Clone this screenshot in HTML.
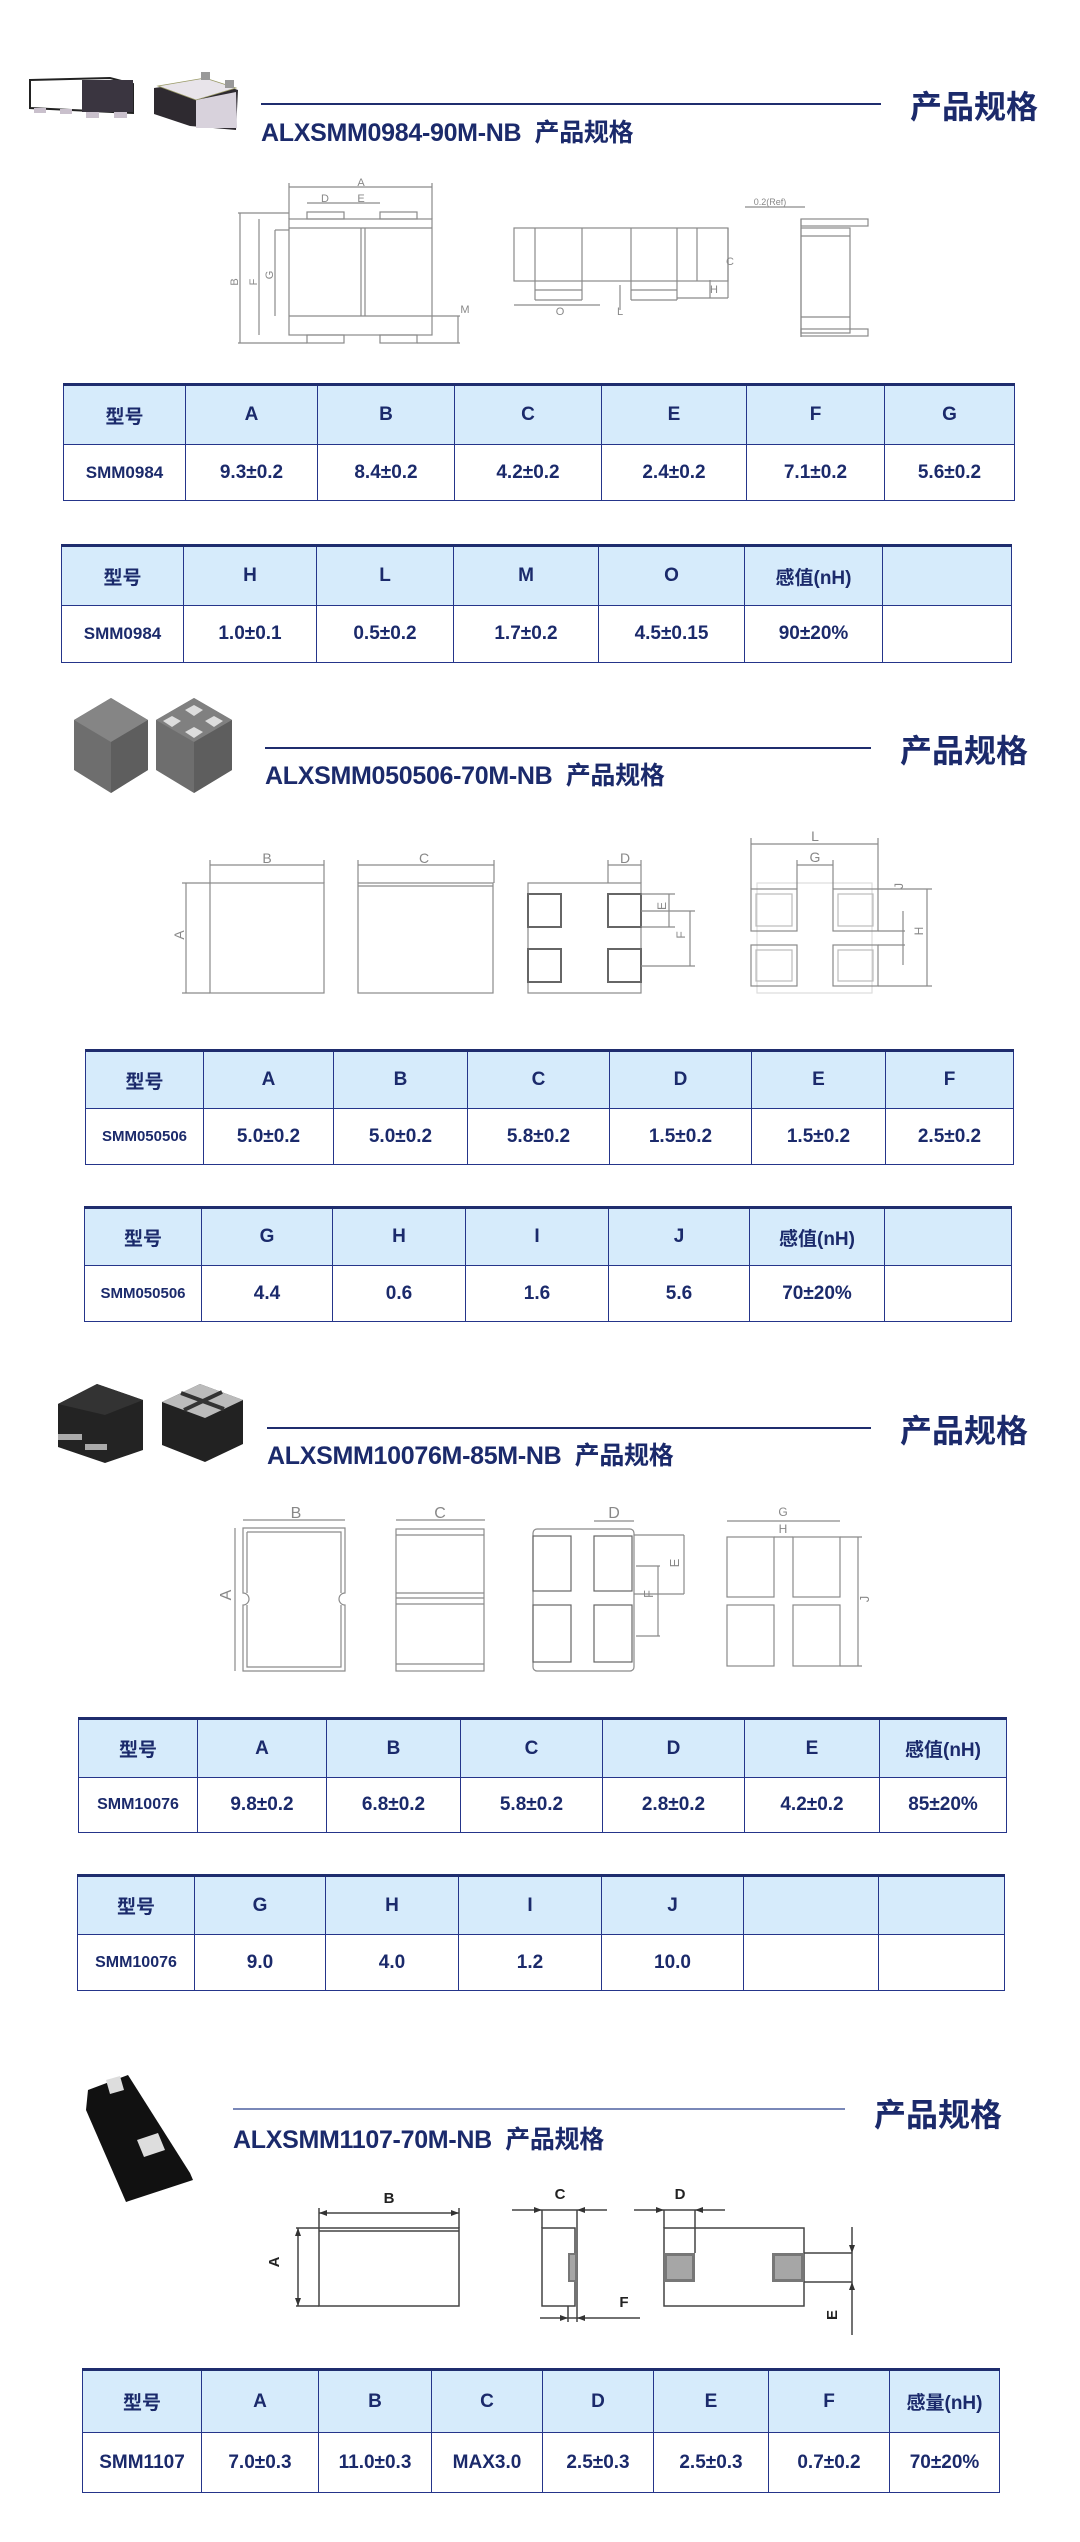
<!DOCTYPE html>
<html><head><meta charset="utf-8">
<style>
*{margin:0;padding:0;box-sizing:border-box}
body{width:1080px;height:2542px;background:#fff;position:relative;overflow:hidden;font-family:"Liberation Sans","Noto Sans CJK SC",sans-serif;color:#1b2a6b}
.t{position:absolute;font-weight:bold;white-space:nowrap;color:#1b2a6b}
.title{font-size:25px;letter-spacing:-0.3px}
.big{font-size:32px}
.line{position:absolute;height:2px;background:#1f2d6e}
table{position:absolute;border-collapse:collapse;table-layout:fixed}
td{border:1.5px solid #25358a;text-align:center;font-weight:bold;font-size:19px;color:#1b2a6b;padding:0;white-space:nowrap;overflow:hidden}
tr.h td{background:#d6ebfb;font-size:19px}
table{border-top:3px solid #1f2d6e}
td.m{font-size:17px}
</style></head><body>

<!-- Section 1 -->
<div class="line" style="left:261px;top:103px;width:620px"></div>
<div class="t title" style="left:261px;top:113px">ALXSMM0984-90M-NB&nbsp; 产品规格</div>
<div class="t big" style="left:910px;top:82px">产品规格</div>

<table style="left:63px;top:383px;width:951px">
<colgroup><col style="width:122px"><col style="width:132px"><col style="width:137px"><col style="width:147px"><col style="width:145px"><col style="width:138px"><col style="width:130px"></colgroup>
<tr class="h" style="height:60px"><td>型号</td><td>A</td><td>B</td><td>C</td><td>E</td><td>F</td><td>G</td></tr>
<tr style="height:56px"><td class="m">SMM0984</td><td>9.3±0.2</td><td>8.4±0.2</td><td>4.2±0.2</td><td>2.4±0.2</td><td>7.1±0.2</td><td>5.6±0.2</td></tr>
</table>
<table style="left:61px;top:544px;width:950px">
<colgroup><col style="width:122px"><col style="width:133px"><col style="width:137px"><col style="width:145px"><col style="width:146px"><col style="width:138px"><col style="width:129px"></colgroup>
<tr class="h" style="height:60px"><td>型号</td><td>H</td><td>L</td><td>M</td><td>O</td><td>感值(nH)</td><td></td></tr>
<tr style="height:57px"><td class="m">SMM0984</td><td>1.0±0.1</td><td>0.5±0.2</td><td>1.7±0.2</td><td>4.5±0.15</td><td>90±20%</td><td></td></tr>
</table>

<!-- Section 2 -->
<div class="line" style="left:265px;top:747px;width:606px"></div>
<div class="t title" style="left:265px;top:756px">ALXSMM050506-70M-NB&nbsp; 产品规格</div>
<div class="t big" style="left:900px;top:726px">产品规格</div>

<table style="left:85px;top:1049px;width:928px">
<colgroup><col style="width:118px"><col style="width:130px"><col style="width:134px"><col style="width:142px"><col style="width:142px"><col style="width:134px"><col style="width:128px"></colgroup>
<tr class="h" style="height:58px"><td>型号</td><td>A</td><td>B</td><td>C</td><td>D</td><td>E</td><td>F</td></tr>
<tr style="height:56px"><td class="m" style="font-size:15px">SMM050506</td><td>5.0±0.2</td><td>5.0±0.2</td><td>5.8±0.2</td><td>1.5±0.2</td><td>1.5±0.2</td><td>2.5±0.2</td></tr>
</table>
<table style="left:84px;top:1206px;width:927px">
<colgroup><col style="width:117px"><col style="width:131px"><col style="width:133px"><col style="width:143px"><col style="width:141px"><col style="width:135px"><col style="width:127px"></colgroup>
<tr class="h" style="height:58px"><td>型号</td><td>G</td><td>H</td><td>I</td><td>J</td><td>感值(nH)</td><td></td></tr>
<tr style="height:56px"><td class="m" style="font-size:15px">SMM050506</td><td>4.4</td><td>0.6</td><td>1.6</td><td>5.6</td><td>70±20%</td><td></td></tr>
</table>

<!-- Section 3 -->
<div class="line" style="left:267px;top:1427px;width:604px"></div>
<div class="t title" style="left:267px;top:1436px">ALXSMM10076M-85M-NB&nbsp; 产品规格</div>
<div class="t big" style="left:900px;top:1406px">产品规格</div>

<table style="left:78px;top:1717px;width:928px">
<colgroup><col style="width:119px"><col style="width:129px"><col style="width:134px"><col style="width:142px"><col style="width:142px"><col style="width:135px"><col style="width:127px"></colgroup>
<tr class="h" style="height:59px"><td>型号</td><td>A</td><td>B</td><td>C</td><td>D</td><td>E</td><td>感值(nH)</td></tr>
<tr style="height:55px"><td class="m" style="font-size:16px">SMM10076</td><td>9.8±0.2</td><td>6.8±0.2</td><td>5.8±0.2</td><td>2.8±0.2</td><td>4.2±0.2</td><td>85±20%</td></tr>
</table>
<table style="left:77px;top:1874px;width:927px">
<colgroup><col style="width:117px"><col style="width:131px"><col style="width:133px"><col style="width:143px"><col style="width:142px"><col style="width:135px"><col style="width:126px"></colgroup>
<tr class="h" style="height:59px"><td>型号</td><td>G</td><td>H</td><td>I</td><td>J</td><td></td><td></td></tr>
<tr style="height:56px"><td class="m" style="font-size:16px">SMM10076</td><td>9.0</td><td>4.0</td><td>1.2</td><td>10.0</td><td></td><td></td></tr>
</table>

<!-- Section 4 -->
<div class="line" style="left:233px;top:2108px;width:612px;background:#7a88b8"></div>
<div class="t title" style="left:233px;top:2120px">ALXSMM1107-70M-NB&nbsp; 产品规格</div>
<div class="t big" style="left:874px;top:2090px">产品规格</div>

<table style="left:82px;top:2368px;width:917px">
<colgroup><col style="width:119px"><col style="width:117px"><col style="width:113px"><col style="width:111px"><col style="width:111px"><col style="width:115px"><col style="width:121px"><col style="width:110px"></colgroup>
<tr class="h" style="height:63px"><td>型号</td><td>A</td><td>B</td><td>C</td><td>D</td><td>E</td><td>F</td><td>感量(nH)</td></tr>
<tr style="height:60px"><td>SMM1107</td><td>7.0±0.3</td><td>11.0±0.3</td><td>MAX3.0</td><td>2.5±0.3</td><td>2.5±0.3</td><td>0.7±0.2</td><td>70±20%</td></tr>
</table>

<svg width="1080" height="2542" style="position:absolute;left:0;top:0" xmlns="http://www.w3.org/2000/svg">
<g font-family="Liberation Sans, sans-serif" font-size="10" fill="#888">
<polygon points="30,80 110,78 133,84 133,113 30,108" fill="#fff" stroke="#222" stroke-width="2"/>
<rect x="82" y="80" width="51" height="32" fill="#3a3540"/>
<rect x="34" y="108" width="12" height="5" fill="#c9c0cc"/><rect x="60" y="109" width="12" height="5" fill="#c9c0cc"/>
<rect x="86" y="112" width="13" height="6" fill="#c9c0cc"/><rect x="114" y="112" width="13" height="6" fill="#c9c0cc"/>
<polygon points="154,88 210,80 238,90 236,130 190,126 154,114" fill="#2e2a30"/>
<polygon points="196,100 236,92 237,128 196,128" fill="#d8d2dc"/>
<polygon points="158,86 205,78 236,88 196,100" fill="#e8e4ea" stroke="#996" stroke-width="0.8"/>
<rect x="201" y="72" width="9" height="8" fill="#999"/><rect x="225" y="80" width="9" height="8" fill="#999"/>
<polygon points="111,698 148,720 148,770 111,793 74,770 74,720" fill="#6e6e6e"/>
<polygon points="111,698 148,720 111,742 74,720" fill="#858585"/>
<polygon points="111,742 148,720 148,770 111,793" fill="#5e5e5e"/>
<polygon points="194,698 232,720 232,770 194,793 156,770 156,720" fill="#6e6e6e"/>
<polygon points="194,698 232,720 194,742 156,720" fill="#808080"/>
<polygon points="194,742 232,720 232,770 194,793" fill="#5e5e5e"/>
<polygon points="194,705 203,710 194,716 185,710" fill="#ddd"/><polygon points="214,716 223,721 214,727 205,721" fill="#ddd"/>
<polygon points="172,716 181,721 172,727 163,721" fill="#ddd"/><polygon points="194,727 203,732 194,738 185,732" fill="#ddd"/>
<polygon points="58,1404 97,1384 143,1400 143,1450 105,1463 58,1447" fill="#232323"/>
<polygon points="58,1404 97,1384 143,1400 105,1415" fill="#333"/>
<rect x="58" y="1434" width="24" height="6" fill="#aaa"/><rect x="85" y="1444" width="22" height="6" fill="#aaa"/>
<polygon points="162,1402 200,1384 243,1400 243,1444 205,1462 162,1445" fill="#222"/>
<polygon points="162,1402 200,1384 243,1400 205,1418" fill="#bbb"/>
<line x1="181" y1="1393" x2="224" y2="1409" stroke="#333" stroke-width="4"/><line x1="222" y1="1392" x2="184" y2="1410" stroke="#333" stroke-width="4"/>
<polygon points="88,2090 128,2075 190,2173 193,2180 126,2202 86,2110" fill="#111"/>
<polygon points="106,2080 120,2076 124,2090 110,2094" fill="#ddd"/>
<polygon points="137,2140 158,2133 165,2150 144,2157" fill="#ddd"/>
</g>

<g fill="none" stroke="#8a8a8a" stroke-width="1.2">
<rect x="289" y="219" width="143" height="116"/>
<line x1="289" y1="228" x2="432" y2="228"/><line x1="289" y1="316" x2="432" y2="316"/>
<line x1="361" y1="228" x2="361" y2="316"/><line x1="365" y1="228" x2="365" y2="316"/>
<rect x="307" y="212" width="37" height="7"/><rect x="380" y="212" width="37" height="7"/>
<rect x="307" y="335" width="37" height="8"/><rect x="380" y="335" width="37" height="8"/>
<line x1="289" y1="187" x2="432" y2="187"/><line x1="289" y1="183" x2="289" y2="219"/><line x1="432" y1="183" x2="432" y2="219"/>
<line x1="307" y1="203" x2="380" y2="203"/>
<line x1="240" y1="213" x2="240" y2="343"/><line x1="238" y1="213" x2="289" y2="213"/><line x1="238" y1="343" x2="307" y2="343"/>
<line x1="259" y1="219" x2="259" y2="335"/><line x1="275" y1="230" x2="275" y2="316"/><line x1="275" y1="230" x2="289" y2="230"/>
<line x1="432" y1="316" x2="460" y2="316"/><line x1="458" y1="316" x2="458" y2="343"/><line x1="417" y1="343" x2="460" y2="343"/>
<rect x="514" y="228" width="214" height="53"/>
<line x1="535" y1="228" x2="535" y2="300"/><line x1="582" y1="228" x2="582" y2="300"/>
<line x1="631" y1="228" x2="631" y2="300"/><line x1="677" y1="228" x2="677" y2="300"/><line x1="697" y1="228" x2="697" y2="281"/>
<line x1="535" y1="290" x2="582" y2="290"/><line x1="535" y1="300" x2="582" y2="300"/>
<line x1="631" y1="290" x2="677" y2="290"/><line x1="631" y1="300" x2="677" y2="300"/>
<line x1="677" y1="298" x2="728" y2="298"/><line x1="728" y1="228" x2="728" y2="298"/>
<line x1="514" y1="305" x2="600" y2="305"/><line x1="620" y1="285" x2="620" y2="310"/>
<line x1="710" y1="280" x2="710" y2="298"/>
<rect x="801" y="228" width="49" height="105"/>
<line x1="801" y1="219" x2="801" y2="337"/><rect x="801" y="219" width="67" height="7"/><rect x="801" y="329" width="67" height="7"/>
<line x1="801" y1="236" x2="850" y2="236"/><line x1="801" y1="317" x2="850" y2="317"/>
<line x1="745" y1="207" x2="805" y2="207"/>

<rect x="210" y="883" width="114" height="110"/>
<line x1="210" y1="865" x2="324" y2="865"/><line x1="210" y1="860" x2="210" y2="883"/><line x1="324" y1="860" x2="324" y2="883"/>
<line x1="186" y1="883" x2="186" y2="993"/><line x1="182" y1="883" x2="210" y2="883"/><line x1="182" y1="993" x2="210" y2="993"/>
<rect x="358" y="883" width="135" height="110"/><line x1="358" y1="886" x2="493" y2="886"/>
<line x1="358" y1="865" x2="494" y2="865"/><line x1="358" y1="860" x2="358" y2="883"/><line x1="494" y1="860" x2="494" y2="883"/>
<rect x="528" y="883" width="113" height="110"/>
<rect x="528" y="894" width="33" height="33" stroke="#666" stroke-width="2"/><rect x="608" y="894" width="33" height="33" stroke="#666" stroke-width="2"/>
<rect x="528" y="949" width="33" height="33" stroke="#666" stroke-width="2"/><rect x="608" y="949" width="33" height="33" stroke="#666" stroke-width="2"/>
<line x1="608" y1="865" x2="641" y2="865"/><line x1="608" y1="860" x2="608" y2="883"/><line x1="641" y1="860" x2="641" y2="883"/>
<line x1="641" y1="894" x2="675" y2="894"/><line x1="641" y1="911" x2="695" y2="911"/><line x1="641" y1="966" x2="695" y2="966"/>
<line x1="669" y1="894" x2="669" y2="927"/><line x1="690" y1="911" x2="690" y2="966"/><line x1="641" y1="927" x2="675" y2="927"/>
<rect x="757" y="883" width="115" height="110" stroke="#ddd"/>
<rect x="751" y="889" width="46" height="42"/><rect x="756" y="894" width="36" height="32" stroke="#bbb"/>
<rect x="833" y="889" width="45" height="42"/><rect x="838" y="894" width="35" height="32" stroke="#bbb"/>
<rect x="751" y="945" width="46" height="41"/><rect x="756" y="950" width="36" height="31" stroke="#bbb"/>
<rect x="833" y="945" width="45" height="41"/><rect x="838" y="950" width="35" height="31" stroke="#bbb"/>
<line x1="751" y1="844" x2="878" y2="844"/><line x1="751" y1="838" x2="751" y2="889"/><line x1="878" y1="838" x2="878" y2="889"/>
<line x1="797" y1="865" x2="833" y2="865"/><line x1="797" y1="860" x2="797" y2="889"/><line x1="833" y1="860" x2="833" y2="889"/>
<line x1="927" y1="889" x2="927" y2="986"/><line x1="878" y1="889" x2="932" y2="889"/><line x1="878" y1="986" x2="932" y2="986"/>
<line x1="903" y1="911" x2="903" y2="965"/><line x1="878" y1="931" x2="905" y2="931"/><line x1="878" y1="945" x2="905" y2="945"/>

<path d="M243,1528 H345 V1593 a5,5 0 0 0 0,12 V1671 H243 V1605 a5,5 0 0 0 0,-12 Z"/>
<path d="M247,1532 H341 V1593 M341,1605 V1667 H247 V1605 M247,1593 V1532"/>
<line x1="243" y1="1520" x2="345" y2="1520"/><line x1="235" y1="1528" x2="235" y2="1671"/>
<rect x="396" y="1529" width="88" height="142"/>
<line x1="396" y1="1535" x2="484" y2="1535"/><line x1="396" y1="1593" x2="484" y2="1593"/><line x1="396" y1="1604" x2="484" y2="1604"/>
<line x1="396" y1="1598" x2="484" y2="1598"/><line x1="396" y1="1664" x2="484" y2="1664"/>
<line x1="396" y1="1520" x2="485" y2="1520"/>
<rect x="533" y="1529" width="101" height="142" rx="4"/>
<rect x="533" y="1536" width="38" height="55" stroke="#666"/><rect x="594" y="1536" width="38" height="55" stroke="#666"/>
<rect x="533" y="1605" width="38" height="57" stroke="#666"/><rect x="594" y="1605" width="38" height="57" stroke="#666"/>
<line x1="594" y1="1521" x2="634" y2="1521"/><line x1="634" y1="1535" x2="684" y2="1535"/><line x1="684" y1="1535" x2="684" y2="1594"/><line x1="634" y1="1594" x2="684" y2="1594"/>
<line x1="636" y1="1566" x2="660" y2="1566"/><line x1="658" y1="1566" x2="658" y2="1636"/><line x1="636" y1="1636" x2="660" y2="1636"/>
<rect x="727" y="1537" width="47" height="60"/><rect x="793" y="1537" width="47" height="60"/>
<rect x="727" y="1605" width="47" height="61"/><rect x="793" y="1605" width="47" height="61"/>
<line x1="727" y1="1521" x2="840" y2="1521"/><line x1="774" y1="1537" x2="793" y2="1537"/>
<line x1="858" y1="1537" x2="858" y2="1666"/><line x1="840" y1="1537" x2="862" y2="1537"/><line x1="840" y1="1666" x2="862" y2="1666"/>

<g stroke="#444" stroke-width="1.5">
<rect x="319" y="2228" width="140" height="78"/><line x1="319" y1="2231" x2="459" y2="2231"/>
<line x1="319" y1="2213" x2="459" y2="2213"/><line x1="319" y1="2208" x2="319" y2="2228"/><line x1="459" y1="2208" x2="459" y2="2228"/>
<line x1="298" y1="2228" x2="298" y2="2306"/><line x1="296" y1="2228" x2="319" y2="2228"/><line x1="296" y1="2306" x2="319" y2="2306"/>
<rect x="542" y="2228" width="33" height="78"/>
<line x1="512" y1="2210" x2="607" y2="2210"/><line x1="542" y1="2210" x2="542" y2="2228"/><line x1="577" y1="2210" x2="577" y2="2306"/>
<line x1="540" y1="2318" x2="640" y2="2318"/><line x1="568" y1="2306" x2="568" y2="2322"/><line x1="577" y1="2306" x2="577" y2="2322"/>
<rect x="664" y="2228" width="140" height="78"/>
<line x1="634" y1="2210" x2="725" y2="2210"/><line x1="664" y1="2210" x2="664" y2="2228"/><line x1="695" y1="2210" x2="695" y2="2253"/>
<line x1="804" y1="2253" x2="852" y2="2253"/><line x1="804" y1="2282" x2="852" y2="2282"/><line x1="852" y1="2227" x2="852" y2="2335"/>
</g>
</g>
<g fill="#777">
<rect x="568" y="2253" width="9" height="29"/><rect x="664" y="2253" width="31" height="29"/><rect x="772" y="2253" width="32" height="29"/>
</g>
<g fill="#fff" opacity="0.35">
<rect x="570" y="2255" width="5" height="25"/><rect x="667" y="2256" width="25" height="23"/><rect x="775" y="2256" width="26" height="23"/>
</g>
<g fill="#333">
<polygon points="319,2213 327,2210 327,2216"/><polygon points="459,2213 451,2210 451,2216"/>
<polygon points="298,2228 295,2236 301,2236"/><polygon points="298,2306 295,2298 301,2298"/>
<polygon points="542,2210 534,2207 534,2213"/><polygon points="577,2210 585,2207 585,2213"/>
<polygon points="568,2318 560,2315 560,2321"/><polygon points="577,2318 585,2315 585,2321"/>
<polygon points="664,2210 656,2207 656,2213"/><polygon points="695,2210 703,2207 703,2213"/>
<polygon points="852,2253 849,2245 855,2245"/><polygon points="852,2282 849,2290 855,2290"/>
</g>
<g font-family="Liberation Sans, sans-serif" fill="#888" font-size="11" text-anchor="middle">
<text x="361" y="186">A</text><text x="325" y="202">D</text><text x="361" y="202">E</text>
<text x="238" y="282" transform="rotate(-90 238 282)">B</text><text x="257" y="282" transform="rotate(-90 257 282)">F</text><text x="273" y="275" transform="rotate(-90 273 275)">G</text>
<text x="465" y="313">M</text><text x="560" y="315">O</text><text x="620" y="315">L</text><text x="714" y="293">H</text><text x="730" y="265">C</text>
<text x="770" y="205" font-size="9">0.2(Ref)</text>
<text x="267" y="863" font-size="14">B</text><text x="424" y="863" font-size="14">C</text><text x="625" y="863" font-size="14">D</text>
<text x="815" y="841" font-size="14">L</text><text x="815" y="862" font-size="14">G</text>
<text x="183" y="942" font-size="14" transform="rotate(-90 180 938)">A</text>
<text x="662" y="910" font-size="12" transform="rotate(-90 662 906)">E</text><text x="684" y="942" font-size="12" transform="rotate(-90 681 938)">F</text>
<text x="902" y="893" font-size="12" transform="rotate(-90 899 889)">J</text><text x="922" y="938" font-size="12" transform="rotate(-90 919 934)">H</text>
<text x="296" y="1518" font-size="16">B</text><text x="440" y="1518" font-size="16">C</text><text x="614" y="1518" font-size="16">D</text>
<text x="783" y="1516" font-size="12">G</text><text x="783" y="1533" font-size="12">H</text>
<text x="228" y="1604" font-size="16" transform="rotate(-90 225 1598)">A</text>
<text x="678" y="1570" font-size="13" transform="rotate(-90 675 1566)">E</text><text x="652" y="1601" font-size="13" transform="rotate(-90 649 1597)">F</text>
<text x="868" y="1606" font-size="13" transform="rotate(-90 865 1602)">J</text>
</g>
<g font-family="Liberation Sans, sans-serif" fill="#222" font-size="15" font-weight="bold" text-anchor="middle">
<text x="389" y="2203">B</text><text x="560" y="2199">C</text><text x="680" y="2199">D</text><text x="624" y="2307">F</text>
<text x="284" y="2267" transform="rotate(-90 279 2267)">A</text>
<text x="838" y="2324" transform="rotate(-90 833 2320)">E</text>
</g>
</svg>
</body></html>
